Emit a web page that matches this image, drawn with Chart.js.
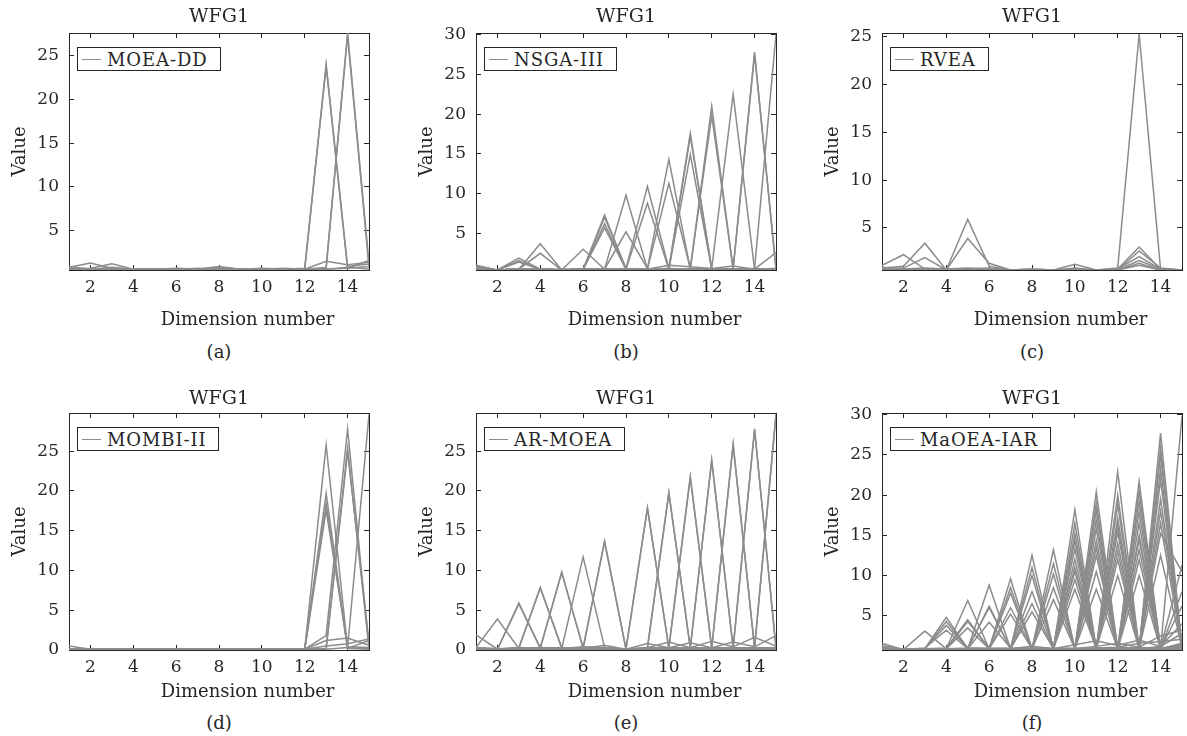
<!DOCTYPE html>
<html>
<head>
<meta charset="utf-8">
<script src="https://cdn.jsdelivr.net/npm/chart.js@4.4.0/dist/chart.umd.min.js"></script>
<style>
html, body { margin: 0; padding: 0; background: #fff; overflow: hidden; }
#fig { position: relative; width: 1187px; height: 736px; }
.legend {
    position: absolute; height: 24px; box-sizing: border-box;
    border: 1px solid #262626; background: #fff;
    display: flex; align-items: center; white-space: nowrap;
    padding: 0 12px 0 4px;
    font-family: "DejaVu Serif"; font-size: 18px; color: #262626; letter-spacing: 0.9px;
}
.legend i { display: inline-block; width: 19px; border-top: 1.4px solid #8c8c8c; margin-right: 6px; }
.cap {
    position: absolute; transform: translate(-50%, -50%);
    font-family: "DejaVu Serif"; font-size: 18px; color: #262626;
}
</style>
</head>
<body>
<div id="fig"></div>
<script>
// dimension numbers on the x axis
const dims = [1, 2, 3, 4, 5, 6, 7, 8, 9, 10, 11, 12, 13, 14, 15];
const xTickValues = [2, 4, 6, 8, 10, 12, 14];
const yTicksA = [5, 10, 15, 20, 25];
const yTicksB = [5, 10, 15, 20, 25, 30];
const yTicksC = [5, 10, 15, 20, 25];
const yTicksD = [0, 5, 10, 15, 20, 25];
const yTicksE = [0, 5, 10, 15, 20, 25];
const yTicksF = [5, 10, 15, 20, 25, 30];

// one row per solution, one value per dimension
const moeaddLines = [
    [0.8, 1.3, 0.7, 0.6, 0.6, 0.7, 0.6, 0.9, 0.6, 0.6, 0.7, 0.6, 24.0, 0.9, 1.2],
    [0.6, 0.7, 1.2, 0.6, 0.6, 0.6, 0.6, 0.7, 0.6, 0.6, 0.6, 0.7, 23.8, 0.7, 0.9],
    [0.6, 0.6, 0.6, 0.6, 0.6, 0.6, 0.6, 0.6, 0.6, 0.7, 0.6, 0.6, 0.7, 27.6, 1.3],
    [0.7, 0.6, 0.7, 0.6, 0.55, 0.6, 0.7, 0.6, 0.6, 0.6, 0.6, 0.6, 0.8, 27.3, 0.8],
    [0.6, 0.6, 0.6, 0.55, 0.6, 0.6, 0.6, 0.6, 0.6, 0.6, 0.6, 0.6, 1.5, 1.1, 1.4],
    [0.5, 0.6, 0.6, 0.55, 0.55, 0.6, 0.55, 0.6, 0.55, 0.55, 0.6, 0.55, 0.6, 0.8, 0.6],
    [0.9, 0.6, 0.8, 0.6, 0.6, 0.6, 0.6, 0.8, 0.6, 0.6, 0.6, 0.6, 0.6, 0.7, 1.6]
];

const nsga3Lines = [
    [1.0, 0.4, 1.9, 0.5, 0.5, 0.5, 0.5, 0.6, 0.5, 0.5, 0.5, 0.5, 0.5, 0.5, 0.6],
    [0.9, 0.4, 1.6, 0.4, 0.5, 0.5, 0.5, 0.5, 0.5, 0.6, 0.5, 0.5, 0.5, 0.5, 0.5],
    [0.7, 0.4, 0.5, 3.7, 0.4, 0.5, 0.5, 0.5, 0.5, 0.5, 0.5, 0.5, 0.5, 0.5, 0.6],
    [0.6, 0.4, 0.5, 2.5, 0.4, 0.5, 0.5, 0.5, 0.5, 0.5, 0.5, 0.5, 0.5, 0.5, 0.5],
    [0.6, 0.4, 1.4, 0.5, 0.4, 3.0, 0.5, 0.5, 0.5, 0.5, 0.5, 0.5, 0.5, 0.5, 0.5],
    [0.5, 0.4, 0.5, 0.5, 0.4, 0.5, 7.3, 0.5, 0.5, 0.6, 0.5, 0.5, 0.5, 0.5, 0.5],
    [0.5, 0.4, 0.5, 0.5, 0.4, 0.5, 7.0, 0.6, 0.5, 0.5, 0.5, 0.5, 0.5, 0.5, 0.5],
    [0.5, 0.4, 0.5, 0.5, 0.4, 0.5, 6.2, 0.5, 0.5, 0.5, 0.5, 0.5, 0.5, 0.5, 0.5],
    [0.5, 0.4, 0.5, 0.5, 0.4, 0.5, 5.7, 0.5, 0.5, 0.5, 0.5, 0.5, 0.5, 0.5, 0.5],
    [0.5, 0.4, 0.5, 0.5, 0.4, 0.5, 0.5, 9.8, 0.5, 0.5, 0.5, 0.5, 0.5, 0.5, 0.5],
    [0.5, 0.4, 0.5, 0.5, 0.4, 0.5, 0.5, 5.2, 0.6, 0.5, 0.5, 0.5, 0.5, 0.5, 0.5],
    [0.5, 0.4, 0.5, 0.5, 0.4, 0.5, 0.5, 0.6, 10.9, 0.6, 0.5, 0.5, 0.5, 0.5, 0.5],
    [0.5, 0.4, 0.5, 0.5, 0.4, 0.5, 0.5, 0.5, 8.8, 0.5, 0.5, 0.5, 0.5, 0.5, 0.5],
    [0.5, 0.4, 0.5, 0.5, 0.4, 0.5, 0.5, 0.5, 0.6, 14.3, 0.5, 0.5, 0.5, 0.5, 0.5],
    [0.5, 0.4, 0.5, 0.5, 0.4, 0.5, 0.5, 0.5, 0.5, 11.3, 0.6, 0.5, 0.5, 0.5, 0.5],
    [0.5, 0.4, 0.5, 0.5, 0.4, 0.5, 0.5, 0.5, 0.5, 0.6, 17.6, 0.5, 0.5, 0.5, 0.5],
    [0.5, 0.4, 0.5, 0.5, 0.4, 0.5, 0.5, 0.5, 0.5, 0.5, 17.2, 0.6, 0.5, 0.5, 0.5],
    [0.5, 0.4, 0.5, 0.5, 0.4, 0.5, 0.5, 0.5, 0.5, 0.5, 14.9, 0.5, 0.5, 0.5, 0.5],
    [0.5, 0.4, 0.5, 0.5, 0.4, 0.5, 0.5, 0.5, 0.5, 0.5, 0.5, 21.0, 0.5, 0.6, 0.5],
    [0.5, 0.4, 0.5, 0.5, 0.4, 0.5, 0.5, 0.5, 0.5, 0.5, 0.6, 19.8, 0.6, 0.5, 0.5],
    [0.5, 0.4, 0.5, 0.5, 0.4, 0.5, 0.5, 0.5, 0.5, 0.5, 0.5, 0.6, 22.5, 0.5, 0.5],
    [0.5, 0.4, 0.5, 0.5, 0.4, 0.5, 0.5, 0.5, 0.5, 0.5, 0.5, 0.5, 0.6, 27.8, 0.6],
    [0.5, 0.4, 0.5, 0.5, 0.4, 0.5, 0.5, 0.5, 0.5, 0.5, 0.5, 0.5, 0.5, 27.5, 0.5],
    [0.5, 0.4, 0.5, 0.5, 0.4, 0.5, 0.5, 0.5, 0.5, 0.5, 0.5, 0.5, 0.5, 0.6, 30.0],
    [0.6, 0.4, 0.5, 0.5, 0.4, 0.5, 0.5, 0.5, 0.5, 1.0, 0.8, 0.6, 0.9, 0.5, 2.6]
];

const rveaLines = [
    [1.1, 2.2, 0.7, 0.6, 5.9, 1.0, 0.6, 0.7, 0.6, 1.2, 0.6, 0.8, 25.3, 0.7, 0.6],
    [0.8, 1.0, 3.4, 0.6, 3.9, 1.3, 0.6, 0.6, 0.6, 0.8, 0.6, 0.7, 3.0, 0.7, 0.6],
    [0.7, 0.8, 1.9, 0.6, 0.7, 0.8, 0.6, 0.6, 0.6, 0.7, 0.6, 0.6, 2.6, 0.8, 0.6],
    [0.9, 0.7, 0.8, 0.7, 0.8, 0.7, 0.6, 0.7, 0.6, 0.6, 0.6, 0.7, 2.0, 0.7, 0.6],
    [0.6, 0.6, 0.7, 0.6, 0.6, 0.6, 0.6, 0.6, 0.6, 0.6, 0.6, 0.6, 1.6, 0.7, 0.6],
    [0.6, 0.7, 0.6, 0.6, 0.6, 0.6, 0.6, 0.6, 0.6, 0.6, 0.6, 0.6, 1.3, 0.6, 0.6],
    [0.6, 0.6, 0.6, 0.6, 0.6, 0.6, 0.6, 0.6, 0.6, 0.6, 0.6, 0.6, 1.1, 0.6, 0.6]
];

const mombiLines = [
    [0.5, 0.1, 0.1, 0.1, 0.1, 0.1, 0.1, 0.1, 0.1, 0.1, 0.1, 0.1, 25.8, 0.3, 0.2],
    [0.1, 0.1, 0.1, 0.1, 0.1, 0.1, 0.1, 0.1, 0.1, 0.1, 0.1, 0.1, 19.7, 0.2, 1.2],
    [0.1, 0.1, 0.1, 0.1, 0.1, 0.1, 0.1, 0.1, 0.1, 0.1, 0.1, 0.1, 18.4, 0.2, 0.1],
    [0.1, 0.1, 0.1, 0.1, 0.1, 0.1, 0.1, 0.1, 0.1, 0.1, 0.1, 0.1, 17.6, 0.4, 0.3],
    [0.1, 0.1, 0.1, 0.1, 0.1, 0.1, 0.1, 0.1, 0.1, 0.1, 0.1, 0.1, 1.8, 27.8, 0.3],
    [0.1, 0.1, 0.1, 0.1, 0.1, 0.1, 0.1, 0.1, 0.1, 0.1, 0.1, 0.1, 0.2, 25.4, 0.2],
    [0.1, 0.1, 0.1, 0.1, 0.1, 0.1, 0.1, 0.1, 0.1, 0.1, 0.1, 0.1, 0.1, 24.9, 1.0],
    [0.1, 0.1, 0.1, 0.1, 0.1, 0.1, 0.1, 0.1, 0.1, 0.1, 0.1, 0.1, 0.1, 0.3, 29.6],
    [0.1, 0.1, 0.1, 0.1, 0.1, 0.1, 0.1, 0.1, 0.1, 0.1, 0.1, 0.1, 1.2, 1.5, 0.6],
    [0.1, 0.1, 0.1, 0.1, 0.1, 0.1, 0.1, 0.1, 0.1, 0.1, 0.1, 0.1, 0.5, 0.8, 1.4]
];

const armoeaLines = [
    [1.9, 0.1, 0.2, 0.2, 0.2, 0.2, 0.2, 0.1, 0.2, 0.2, 0.2, 0.2, 0.2, 0.2, 0.3],
    [0.3, 3.9, 0.2, 0.2, 0.2, 0.2, 0.2, 0.1, 0.2, 0.2, 0.2, 0.2, 0.2, 0.2, 0.2],
    [0.2, 0.1, 5.9, 0.2, 0.2, 0.2, 0.2, 0.1, 0.2, 0.2, 0.2, 0.2, 0.2, 0.2, 0.2],
    [0.2, 0.1, 5.8, 0.3, 0.2, 0.2, 0.2, 0.1, 0.2, 0.2, 0.2, 0.2, 0.2, 0.2, 0.2],
    [0.2, 0.1, 0.2, 7.9, 0.2, 0.2, 0.2, 0.1, 0.2, 0.2, 0.2, 0.2, 0.2, 0.2, 0.2],
    [0.2, 0.1, 0.3, 7.8, 0.3, 0.2, 0.2, 0.1, 0.2, 0.2, 0.2, 0.2, 0.2, 0.2, 0.2],
    [0.2, 0.1, 0.2, 0.2, 9.8, 0.2, 0.2, 0.1, 0.2, 0.2, 0.2, 0.2, 0.2, 0.2, 0.2],
    [0.2, 0.1, 0.2, 0.3, 9.7, 0.3, 0.2, 0.1, 0.2, 0.2, 0.2, 0.2, 0.2, 0.2, 0.2],
    [0.2, 0.1, 0.2, 0.2, 0.2, 11.7, 0.3, 0.1, 0.2, 0.2, 0.2, 0.2, 0.2, 0.2, 0.2],
    [0.2, 0.1, 0.2, 0.2, 0.2, 0.2, 13.7, 0.1, 0.2, 0.2, 0.2, 0.2, 0.2, 0.2, 0.2],
    [0.2, 0.1, 0.2, 0.2, 0.2, 0.3, 13.6, 0.1, 0.2, 0.2, 0.2, 0.2, 0.2, 0.2, 0.2],
    [0.2, 0.1, 0.2, 0.2, 0.2, 0.2, 0.2, 0.1, 17.8, 0.2, 0.2, 0.2, 0.2, 0.2, 0.2],
    [0.2, 0.1, 0.2, 0.2, 0.2, 0.2, 0.2, 0.1, 17.9, 0.3, 0.2, 0.2, 0.2, 0.2, 0.2],
    [0.2, 0.1, 0.2, 0.2, 0.2, 0.2, 0.2, 0.1, 0.2, 19.8, 0.2, 0.2, 0.2, 0.2, 0.2],
    [0.2, 0.1, 0.2, 0.2, 0.2, 0.2, 0.2, 0.1, 0.3, 19.7, 0.3, 0.2, 0.2, 0.2, 0.2],
    [0.2, 0.1, 0.2, 0.2, 0.2, 0.2, 0.2, 0.1, 0.2, 0.2, 21.8, 0.2, 0.2, 0.2, 0.2],
    [0.2, 0.1, 0.2, 0.2, 0.2, 0.2, 0.2, 0.1, 0.2, 0.3, 21.7, 0.3, 0.2, 0.2, 0.2],
    [0.2, 0.1, 0.2, 0.2, 0.2, 0.2, 0.2, 0.1, 0.2, 0.2, 0.2, 23.9, 0.2, 0.2, 0.2],
    [0.2, 0.1, 0.2, 0.2, 0.2, 0.2, 0.2, 0.1, 0.2, 0.2, 0.3, 23.8, 0.3, 0.2, 0.2],
    [0.2, 0.1, 0.2, 0.2, 0.2, 0.2, 0.2, 0.1, 0.2, 0.2, 0.2, 0.2, 25.9, 0.2, 0.2],
    [0.2, 0.1, 0.2, 0.2, 0.2, 0.2, 0.2, 0.1, 0.2, 0.2, 0.2, 0.3, 25.8, 0.3, 0.2],
    [0.2, 0.1, 0.2, 0.2, 0.2, 0.2, 0.2, 0.1, 0.2, 0.2, 0.2, 0.2, 0.2, 27.8, 0.2],
    [0.2, 0.1, 0.2, 0.2, 0.2, 0.2, 0.2, 0.1, 0.2, 0.2, 0.2, 0.2, 0.3, 27.7, 0.3],
    [0.2, 0.1, 0.2, 0.2, 0.2, 0.2, 0.2, 0.1, 0.2, 0.2, 0.2, 0.2, 0.2, 0.2, 29.7],
    [0.2, 0.1, 0.2, 0.2, 0.2, 0.2, 0.2, 0.1, 0.2, 0.2, 0.2, 0.2, 0.2, 0.3, 29.5],
    [0.2, 0.1, 0.3, 0.2, 0.3, 0.2, 0.6, 0.1, 0.8, 0.3, 0.9, 0.3, 1.0, 0.4, 1.8],
    [0.3, 0.2, 0.2, 0.3, 0.2, 0.4, 0.3, 0.1, 0.3, 1.0, 0.3, 1.1, 0.4, 1.6, 0.5]
];

const maoeaLines = [
    [1.6, 0.8, 3.1, 0.9, 0.9, 0.9, 0.9, 0.9, 0.9, 0.9, 0.9, 0.9, 0.9, 0.9, 1.0],
    [1.3, 0.8, 0.9, 4.8, 0.9, 0.9, 0.9, 0.9, 0.9, 0.9, 0.9, 0.9, 0.9, 0.9, 0.9],
    [1.1, 0.8, 0.9, 4.3, 1.0, 0.9, 0.9, 1.0, 0.9, 0.9, 0.9, 0.9, 0.9, 1.0, 0.9],
    [0.9, 0.8, 0.9, 3.8, 1.0, 0.9, 0.9, 0.9, 0.9, 0.9, 0.9, 0.9, 0.9, 0.9, 1.2],
    [0.9, 0.8, 1.0, 3.2, 0.9, 0.9, 0.9, 0.9, 0.9, 0.9, 0.9, 0.9, 1.0, 0.9, 0.9],
    [0.9, 0.8, 0.9, 0.9, 6.9, 0.9, 0.9, 0.9, 0.9, 0.9, 0.9, 0.9, 0.9, 0.9, 0.9],
    [0.9, 0.8, 0.9, 1.0, 4.5, 0.9, 0.9, 0.9, 0.9, 0.9, 0.9, 0.9, 0.9, 0.9, 1.1],
    [0.9, 0.8, 0.9, 0.9, 4.3, 1.0, 0.9, 0.9, 0.9, 0.9, 0.9, 0.9, 0.9, 0.9, 0.9],
    [0.9, 0.8, 0.9, 0.9, 3.5, 0.9, 0.9, 0.9, 0.9, 0.9, 0.9, 0.9, 0.9, 1.0, 0.9],
    [0.9, 0.8, 0.9, 0.9, 0.9, 8.8, 0.9, 0.9, 0.9, 0.9, 0.9, 0.9, 0.9, 0.9, 0.9],
    [0.9, 0.8, 0.9, 0.9, 0.9, 6.2, 0.9, 0.9, 0.9, 0.9, 0.9, 0.9, 0.9, 0.9, 0.9],
    [0.9, 0.8, 0.9, 0.9, 1.0, 6.0, 0.9, 0.9, 0.9, 0.9, 0.9, 0.9, 1.0, 0.9, 0.9],
    [0.9, 0.8, 0.9, 0.9, 0.9, 4.2, 1.0, 0.9, 0.9, 0.9, 0.9, 0.9, 0.9, 0.9, 1.3],
    [0.9, 0.8, 0.9, 0.9, 0.9, 0.9, 9.6, 0.9, 0.9, 0.9, 0.9, 0.9, 0.9, 0.9, 0.9],
    [0.9, 0.8, 0.9, 0.9, 0.9, 0.9, 8.5, 0.9, 0.9, 0.9, 0.9, 0.9, 0.9, 0.9, 0.9],
    [0.9, 0.8, 0.9, 0.9, 0.9, 1.0, 7.8, 0.9, 0.9, 0.9, 0.9, 0.9, 0.9, 0.9, 0.9],
    [0.9, 0.8, 0.9, 0.9, 0.9, 0.9, 6.0, 1.0, 0.9, 0.9, 0.9, 0.9, 0.9, 0.9, 0.9],
    [0.9, 0.8, 0.9, 0.9, 0.9, 0.9, 5.2, 0.9, 0.9, 0.9, 0.9, 1.0, 0.9, 0.9, 0.9],
    [0.9, 0.8, 0.9, 0.9, 0.9, 0.9, 0.9, 12.5, 0.9, 0.9, 0.9, 0.9, 0.9, 0.9, 0.9],
    [0.9, 0.8, 0.9, 0.9, 0.9, 0.9, 0.9, 11.0, 0.9, 0.9, 0.9, 0.9, 0.9, 0.9, 0.9],
    [0.9, 0.8, 0.9, 0.9, 0.9, 0.9, 1.0, 10.0, 0.9, 0.9, 0.9, 0.9, 0.9, 0.9, 0.9],
    [0.9, 0.8, 0.9, 0.9, 0.9, 0.9, 0.9, 8.0, 1.0, 0.9, 0.9, 0.9, 0.9, 0.9, 0.9],
    [0.9, 0.8, 0.9, 0.9, 0.9, 0.9, 0.9, 6.5, 0.9, 0.9, 0.9, 0.9, 0.9, 0.9, 1.4],
    [0.9, 0.8, 0.9, 0.9, 0.9, 0.9, 0.9, 5.5, 0.9, 0.9, 0.9, 0.9, 0.9, 0.9, 0.9],
    [0.9, 0.8, 0.9, 0.9, 0.9, 0.9, 0.9, 0.9, 13.2, 0.9, 0.9, 0.9, 0.9, 0.9, 0.9],
    [0.9, 0.8, 0.9, 0.9, 0.9, 0.9, 0.9, 0.9, 11.5, 0.9, 0.9, 0.9, 0.9, 0.9, 0.9],
    [0.9, 0.8, 0.9, 0.9, 0.9, 0.9, 0.9, 1.0, 10.2, 0.9, 0.9, 0.9, 0.9, 0.9, 0.9],
    [0.9, 0.8, 0.9, 0.9, 0.9, 0.9, 0.9, 0.9, 8.5, 1.0, 0.9, 0.9, 0.9, 0.9, 0.9],
    [0.9, 0.8, 0.9, 0.9, 0.9, 0.9, 0.9, 0.9, 7.0, 0.9, 0.9, 0.9, 0.9, 1.1, 0.9],
    [0.9, 0.8, 0.9, 0.9, 0.9, 0.9, 0.9, 0.9, 0.9, 18.2, 0.9, 0.9, 0.9, 0.9, 0.9],
    [0.9, 0.8, 0.9, 0.9, 0.9, 0.9, 0.9, 0.9, 0.9, 16.5, 0.9, 0.9, 0.9, 0.9, 0.9],
    [0.9, 0.8, 0.9, 0.9, 0.9, 0.9, 0.9, 0.9, 0.9, 15.2, 0.9, 0.9, 0.9, 0.9, 0.9],
    [0.9, 0.8, 0.9, 0.9, 0.9, 0.9, 0.9, 0.9, 1.0, 14.3, 0.9, 0.9, 0.9, 0.9, 0.9],
    [0.9, 0.8, 0.9, 0.9, 0.9, 0.9, 0.9, 0.9, 0.9, 13.3, 1.0, 0.9, 0.9, 0.9, 0.9],
    [0.9, 0.8, 0.9, 0.9, 0.9, 0.9, 0.9, 0.9, 0.9, 12.0, 0.9, 0.9, 0.9, 0.9, 0.9],
    [0.9, 0.8, 0.9, 0.9, 0.9, 0.9, 0.9, 0.9, 0.9, 11.0, 0.9, 1.0, 0.9, 0.9, 0.9],
    [0.9, 0.8, 0.9, 0.9, 0.9, 0.9, 0.9, 0.9, 0.9, 10.5, 0.9, 0.9, 1.0, 0.9, 0.9],
    [0.9, 0.8, 0.9, 0.9, 0.9, 0.9, 0.9, 0.9, 0.9, 9.5, 0.9, 0.9, 0.9, 0.9, 0.9],
    [0.9, 0.8, 0.9, 0.9, 0.9, 0.9, 0.9, 0.9, 0.9, 8.3, 0.9, 0.9, 0.9, 0.9, 1.6],
    [0.9, 0.8, 0.9, 0.9, 0.9, 0.9, 0.9, 0.9, 0.9, 0.9, 20.4, 0.9, 0.9, 0.9, 0.9],
    [0.9, 0.8, 0.9, 0.9, 0.9, 0.9, 0.9, 0.9, 0.9, 0.9, 19.0, 0.9, 0.9, 0.9, 0.9],
    [0.9, 0.8, 0.9, 0.9, 0.9, 0.9, 0.9, 0.9, 0.9, 0.9, 18.1, 0.9, 0.9, 0.9, 0.9],
    [0.9, 0.8, 0.9, 0.9, 0.9, 0.9, 0.9, 0.9, 0.9, 1.0, 16.9, 0.9, 0.9, 0.9, 0.9],
    [0.9, 0.8, 0.9, 0.9, 0.9, 0.9, 0.9, 0.9, 0.9, 0.9, 15.8, 1.0, 0.9, 0.9, 0.9],
    [0.9, 0.8, 0.9, 0.9, 0.9, 0.9, 0.9, 0.9, 0.9, 0.9, 14.4, 0.9, 0.9, 0.9, 0.9],
    [0.9, 0.8, 0.9, 0.9, 0.9, 0.9, 0.9, 0.9, 0.9, 0.9, 13.5, 0.9, 0.9, 0.9, 0.9],
    [0.9, 0.8, 0.9, 0.9, 0.9, 0.9, 0.9, 0.9, 0.9, 0.9, 12.5, 0.9, 0.9, 1.0, 0.9],
    [0.9, 0.8, 0.9, 0.9, 0.9, 0.9, 0.9, 0.9, 0.9, 0.9, 10.5, 0.9, 0.9, 0.9, 0.9],
    [0.9, 0.8, 0.9, 0.9, 0.9, 0.9, 0.9, 0.9, 0.9, 0.9, 8.3, 0.9, 0.9, 0.9, 0.9],
    [0.9, 0.8, 0.9, 0.9, 0.9, 0.9, 0.9, 0.9, 0.9, 0.9, 0.9, 22.9, 0.9, 0.9, 0.9],
    [0.9, 0.8, 0.9, 0.9, 0.9, 0.9, 0.9, 0.9, 0.9, 0.9, 0.9, 20.0, 0.9, 0.9, 0.9],
    [0.9, 0.8, 0.9, 0.9, 0.9, 0.9, 0.9, 0.9, 0.9, 0.9, 0.9, 18.8, 0.9, 0.9, 0.9],
    [0.9, 0.8, 0.9, 0.9, 0.9, 0.9, 0.9, 0.9, 0.9, 0.9, 1.0, 17.1, 0.9, 0.9, 0.9],
    [0.9, 0.8, 0.9, 0.9, 0.9, 0.9, 0.9, 0.9, 0.9, 0.9, 0.9, 16.2, 0.9, 0.9, 0.9],
    [0.9, 0.8, 0.9, 0.9, 0.9, 0.9, 0.9, 0.9, 0.9, 0.9, 0.9, 15.4, 1.0, 0.9, 0.9],
    [0.9, 0.8, 0.9, 0.9, 0.9, 0.9, 0.9, 0.9, 0.9, 0.9, 0.9, 14.0, 0.9, 0.9, 1.2],
    [0.9, 0.8, 0.9, 0.9, 0.9, 0.9, 0.9, 0.9, 0.9, 0.9, 0.9, 13.0, 0.9, 0.9, 0.9],
    [0.9, 0.8, 0.9, 0.9, 0.9, 0.9, 0.9, 0.9, 0.9, 0.9, 0.9, 12.0, 0.9, 0.9, 0.9],
    [0.9, 0.8, 0.9, 0.9, 0.9, 0.9, 0.9, 0.9, 0.9, 0.9, 0.9, 10.0, 0.9, 0.9, 0.9],
    [0.9, 0.8, 0.9, 0.9, 0.9, 0.9, 0.9, 0.9, 0.9, 0.9, 0.9, 0.9, 21.7, 0.9, 0.9],
    [0.9, 0.8, 0.9, 0.9, 0.9, 0.9, 0.9, 0.9, 0.9, 0.9, 0.9, 0.9, 20.5, 0.9, 0.9],
    [0.9, 0.8, 0.9, 0.9, 0.9, 0.9, 0.9, 0.9, 0.9, 0.9, 0.9, 0.9, 19.2, 0.9, 0.9],
    [0.9, 0.8, 0.9, 0.9, 0.9, 0.9, 0.9, 0.9, 0.9, 0.9, 0.9, 1.0, 17.9, 0.9, 0.9],
    [0.9, 0.8, 0.9, 0.9, 0.9, 0.9, 0.9, 0.9, 0.9, 0.9, 0.9, 0.9, 16.5, 0.9, 0.9],
    [0.9, 0.8, 0.9, 0.9, 0.9, 0.9, 0.9, 0.9, 0.9, 0.9, 0.9, 0.9, 15.0, 1.0, 0.9],
    [0.9, 0.8, 0.9, 0.9, 0.9, 0.9, 0.9, 0.9, 0.9, 0.9, 0.9, 0.9, 14.4, 0.9, 1.4],
    [0.9, 0.8, 0.9, 0.9, 0.9, 0.9, 0.9, 0.9, 0.9, 0.9, 0.9, 0.9, 13.2, 0.9, 0.9],
    [0.9, 0.8, 0.9, 0.9, 0.9, 0.9, 0.9, 0.9, 0.9, 0.9, 0.9, 0.9, 12.0, 0.9, 0.9],
    [0.9, 0.8, 0.9, 0.9, 0.9, 0.9, 0.9, 0.9, 0.9, 0.9, 0.9, 0.9, 10.0, 0.9, 0.9],
    [0.9, 0.8, 0.9, 0.9, 0.9, 0.9, 0.9, 0.9, 0.9, 0.9, 0.9, 0.9, 0.9, 27.7, 0.9],
    [0.9, 0.8, 0.9, 0.9, 0.9, 0.9, 0.9, 0.9, 0.9, 0.9, 0.9, 0.9, 0.9, 25.8, 0.9],
    [0.9, 0.8, 0.9, 0.9, 0.9, 0.9, 0.9, 0.9, 0.9, 0.9, 0.9, 0.9, 0.9, 25.0, 0.9],
    [0.9, 0.8, 0.9, 0.9, 0.9, 0.9, 0.9, 0.9, 0.9, 0.9, 0.9, 0.9, 1.0, 23.3, 1.0],
    [0.9, 0.8, 0.9, 0.9, 0.9, 0.9, 0.9, 0.9, 0.9, 0.9, 0.9, 0.9, 0.9, 21.9, 0.9],
    [0.9, 0.8, 0.9, 0.9, 0.9, 0.9, 0.9, 0.9, 0.9, 0.9, 0.9, 0.9, 0.9, 19.5, 1.2],
    [0.9, 0.8, 0.9, 0.9, 0.9, 0.9, 0.9, 0.9, 0.9, 0.9, 0.9, 0.9, 0.9, 18.0, 1.5],
    [0.9, 0.8, 0.9, 0.9, 0.9, 0.9, 0.9, 0.9, 0.9, 0.9, 0.9, 0.9, 0.9, 16.5, 0.9],
    [0.9, 0.8, 0.9, 0.9, 0.9, 0.9, 0.9, 0.9, 0.9, 0.9, 0.9, 0.9, 1.1, 15.2, 10.5],
    [0.9, 0.8, 0.9, 0.9, 0.9, 0.9, 0.9, 0.9, 0.9, 0.9, 0.9, 0.9, 0.9, 12.5, 1.0],
    [0.9, 0.8, 0.9, 0.9, 0.9, 0.9, 0.9, 0.9, 0.9, 0.9, 0.9, 0.9, 0.9, 0.9, 29.8],
    [0.9, 0.8, 0.9, 0.9, 0.9, 0.9, 0.9, 0.9, 0.9, 0.9, 0.9, 0.9, 0.9, 1.0, 11.3],
    [0.9, 0.8, 0.9, 0.9, 0.9, 0.9, 0.9, 0.9, 0.9, 0.9, 0.9, 0.9, 0.9, 0.9, 8.0],
    [0.9, 0.8, 0.9, 0.9, 0.9, 0.9, 0.9, 0.9, 0.9, 0.9, 0.9, 0.9, 1.0, 0.9, 6.2],
    [0.9, 0.8, 0.9, 0.9, 0.9, 0.9, 0.9, 0.9, 0.9, 0.9, 0.9, 0.9, 0.9, 1.2, 4.0],
    [0.9, 0.8, 0.9, 0.9, 0.9, 0.9, 0.9, 0.9, 0.9, 1.4, 1.9, 1.3, 2.0, 1.2, 2.8],
    [0.9, 0.8, 0.9, 0.9, 0.9, 0.9, 0.9, 1.2, 0.9, 0.9, 1.2, 1.6, 1.1, 2.5, 3.2],
    [0.9, 0.8, 0.9, 0.9, 0.9, 0.9, 0.9, 0.9, 0.9, 0.9, 1.0, 1.1, 1.6, 1.8, 2.1]
];

const panels = [
    { name: 'MOEA-DD', lines: moeaddLines, yTicks: yTicksA, yMin: 0.5, yMax: 27.6, cap: '(a)', row: 0, col: 0 },
    { name: 'NSGA-III', lines: nsga3Lines, yTicks: yTicksB, yMin: 0.4, yMax: 30.2, cap: '(b)', row: 0, col: 1 },
    { name: 'RVEA', lines: rveaLines, yTicks: yTicksC, yMin: 0.6, yMax: 25.4, cap: '(c)', row: 0, col: 2 },
    { name: 'MOMBI-II', lines: mombiLines, yTicks: yTicksD, yMin: 0, yMax: 29.8, cap: '(d)', row: 1, col: 0 },
    { name: 'AR-MOEA', lines: armoeaLines, yTicks: yTicksE, yMin: 0, yMax: 29.8, cap: '(e)', row: 1, col: 1 },
    { name: 'MaOEA-IAR', lines: maoeaLines, yTicks: yTicksF, yMin: 0.75, yMax: 30.2, cap: '(f)', row: 1, col: 2 }
];

// layout of the 2x3 grid
const colLeft = [69, 476, 882];
const plotW = 300;
const plotH = 237;
const rows = [
    { top: 0, bottomAxis: 62, titlePad: 7, xTitlePad: 1, capY: 351 },
    { top: 380, bottomAxis: 55, titlePad: 9, xTitlePad: 2, capY: 722 }
];
const ink = '#262626';
const lineColor = 'rgb(140, 140, 140)';

Chart.defaults.font.family = '"DejaVu Serif"';
Chart.defaults.color = ink;

const fig = document.getElementById('fig');

function tickSetter(values) {
    return (scale) => {
        scale.ticks = values.map(v => ({ value: v }));
    };
}

function edgeGrid() {
    return { drawOnChartArea: false, drawTicks: true, tickLength: -5, color: ink, lineWidth: 1 };
}

panels.forEach(p => {
    const r = rows[p.row];
    const canvasW = 69 + plotW + 6;
    const canvasH = 33 + plotH + r.bottomAxis;
    const canvas = document.createElement('canvas');
    canvas.width = canvasW;
    canvas.height = canvasH;
    canvas.style.cssText = `position:absolute;left:${colLeft[p.col] - 69}px;top:${r.top}px;width:${canvasW}px;height:${canvasH}px`;
    fig.appendChild(canvas);

    const datasets = p.lines.map(vals => ({
        data: vals.map((v, i) => ({ x: dims[i], y: v })),
        borderColor: lineColor,
        borderWidth: 1.5,
        pointRadius: 0,
        tension: 0,
        fill: false
    }));

    new Chart(canvas, {
        type: 'line',
        data: { datasets: datasets },
        options: {
            responsive: false,
            animation: false,
            layout: { padding: 0 },
            plugins: { legend: { display: false }, tooltip: { enabled: false } },
            scales: {
                x: {
                    type: 'linear', position: 'bottom', min: 1, max: 15,
                    afterBuildTicks: tickSetter(xTickValues),
                    ticks: { padding: 12, font: { size: 17 }, color: ink, maxRotation: 0, autoSkip: false },
                    grid: edgeGrid(),
                    border: { display: true, color: ink, width: 1 },
                    title: {
                        display: true,
                        text: '\u00a0'.repeat(10) + 'Dimension number',
                        font: { size: 18 }, color: ink,
                        padding: { top: 0, bottom: r.xTitlePad }
                    },
                    afterFit: (s) => { s.height = r.bottomAxis; }
                },
                x2: {
                    type: 'linear', position: 'top', min: 1, max: 15,
                    afterBuildTicks: tickSetter(xTickValues),
                    ticks: { display: false },
                    grid: edgeGrid(),
                    border: { display: true, color: ink, width: 1 },
                    title: {
                        display: true, text: 'WFG1',
                        font: { size: 19 }, color: ink,
                        padding: { top: r.titlePad - 1, bottom: 0 }
                    },
                    afterFit: (s) => { s.height = 33; }
                },
                y: {
                    type: 'linear', position: 'left', min: p.yMin, max: p.yMax,
                    afterBuildTicks: tickSetter(p.yTicks),
                    ticks: { padding: 15, font: { size: 17 }, color: ink },
                    grid: edgeGrid(),
                    border: { display: true, color: ink, width: 1 },
                    title: {
                        display: true, text: 'Value',
                        font: { size: 18 }, color: ink,
                        padding: { top: 10, bottom: 0 }
                    },
                    afterFit: (s) => { s.width = 69; }
                },
                y2: {
                    type: 'linear', position: 'right', min: p.yMin, max: p.yMax,
                    afterBuildTicks: tickSetter(p.yTicks),
                    ticks: { display: false },
                    grid: edgeGrid(),
                    border: { display: true, color: ink, width: 1 },
                    afterFit: (s) => { s.width = 6; }
                }
            }
        }
    });

    const legend = document.createElement('div');
    legend.className = 'legend';
    legend.style.left = (colLeft[p.col] + 8) + 'px';
    legend.style.top = (r.top + 33 + 14) + 'px';
    legend.innerHTML = '<i></i>';
    legend.appendChild(document.createTextNode(p.name));
    fig.appendChild(legend);

    const cap = document.createElement('div');
    cap.className = 'cap';
    cap.style.left = (colLeft[p.col] + plotW / 2) + 'px';
    cap.style.top = r.capY + 'px';
    cap.textContent = p.cap;
    fig.appendChild(cap);
});
</script>
</body>
</html>
